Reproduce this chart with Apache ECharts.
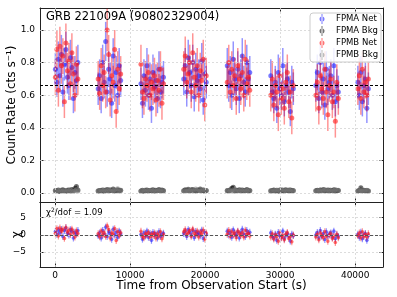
<!DOCTYPE html>
<html><head><meta charset="utf-8">
<script src="https://cdn.jsdelivr.net/npm/echarts@6/dist/echarts.min.js"></script>
<style>html,body{margin:0;padding:0;background:#fff}#c{width:397px;height:297px}</style>
</head><body><div id="c"></div>
<script>
const titleText = 'GRB 221009A (90802329004)';
const chiLabel = 'χ{s|2}/dof = 1.09';
const meanRate = 0.663;
const xTicks = [0, 10000, 20000, 30000, 40000];
const yTicksMain = [0, 0.2, 0.4, 0.6, 0.8, 1.0];
const yTicksRes = [-5, 0, 5];
const seriesNames = ['FPMA Net', 'FPMA Bkg', 'FPMB Net', 'FPMB Bkg'];

const times = [
  50,250,450,650,850,1050,1250,1450,1650,1850,2050,2250,2450,2650,2850,3050,
  5750,5950,6150,6350,6550,6750,6950,7150,7350,7550,7750,7950,8150,8350,8550,8750,
  11450,11650,11850,12050,12250,12450,12650,12850,13050,13250,13450,13650,13850,14050,14250,14450,
  17150,17350,17550,17750,17950,18150,18350,18550,18750,18950,19150,19350,19550,19750,19950,20150,
  22950,23150,23350,23550,23750,23950,24150,24350,24550,24750,24950,25150,25350,25550,25750,25950,
  28750,28950,29150,29350,29550,29750,29950,30150,30350,30550,30750,30950,31150,31350,31550,31750,
  34750,34950,35150,35350,35550,35750,35950,36150,36350,36550,36750,36950,37150,37350,37550,37750,
  40350,40550,40750,40950,41150,41350,41550,41750
];
const rateA = [
  0.76,0.68,0.82,0.72,0.85,0.62,0.79,0.88,0.71,0.66,0.83,0.77,0.58,0.74,0.69,0.80,
  0.64,0.72,0.58,0.80,0.68,0.93,0.62,0.76,0.70,0.55,0.84,0.66,0.74,0.60,0.78,0.69,
  0.67,0.55,0.72,0.63,0.78,0.60,0.70,0.52,0.74,0.65,0.69,0.58,0.76,0.62,0.68,0.71,
  0.70,0.78,0.62,0.83,0.74,0.66,0.80,0.59,0.76,0.69,0.72,0.64,0.81,0.57,0.73,0.68,
  0.78,0.66,0.74,0.60,0.82,0.70,0.64,0.76,0.58,0.72,0.84,0.68,0.62,0.80,0.70,0.74,
  0.72,0.62,0.58,0.68,0.52,0.74,0.64,0.60,0.78,0.56,0.66,0.70,0.62,0.50,0.68,0.64,
  0.66,0.74,0.58,0.80,0.62,0.70,0.54,0.76,0.64,0.68,0.72,0.60,0.78,0.56,0.66,0.62,
  0.68,0.60,0.74,0.56,0.66,0.70,0.52,0.64
];
const errA = [
  0.10,0.09,0.11,0.10,0.12,0.09,0.10,0.11,0.10,0.09,0.11,0.10,0.09,0.10,0.10,0.11,
  0.10,0.10,0.09,0.11,0.10,0.12,0.09,0.11,0.10,0.09,0.11,0.10,0.10,0.09,0.11,0.10,
  0.10,0.09,0.10,0.10,0.11,0.09,0.10,0.09,0.11,0.10,0.10,0.09,0.11,0.10,0.10,0.10,
  0.10,0.11,0.09,0.11,0.10,0.10,0.11,0.09,0.10,0.10,0.10,0.09,0.11,0.09,0.10,0.10,
  0.11,0.10,0.10,0.09,0.11,0.10,0.10,0.11,0.09,0.10,0.11,0.10,0.09,0.11,0.10,0.10,
  0.10,0.10,0.09,0.10,0.09,0.11,0.10,0.09,0.11,0.09,0.10,0.10,0.10,0.09,0.10,0.10,
  0.10,0.11,0.09,0.11,0.10,0.10,0.09,0.11,0.10,0.10,0.10,0.09,0.11,0.09,0.10,0.10,
  0.10,0.09,0.10,0.09,0.10,0.10,0.09,0.10
];
const rateB = [
  0.71,0.88,0.63,0.90,0.78,0.84,0.56,0.92,0.75,0.81,0.67,0.86,0.73,0.60,0.79,0.70,
  0.70,0.61,0.78,0.66,0.74,0.62,1.00,0.85,0.57,0.72,0.68,0.88,0.50,0.76,0.64,0.73,
  0.79,0.62,0.58,0.70,0.66,0.74,0.60,0.68,0.64,0.72,0.57,0.69,0.63,0.76,0.55,0.67,
  0.76,0.84,0.68,0.73,0.80,0.62,0.86,0.71,0.66,0.78,0.60,0.75,0.69,0.82,0.54,0.72,
  0.68,0.80,0.62,0.76,0.66,0.72,0.58,0.78,0.70,0.64,0.74,0.60,0.82,0.67,0.71,0.63,
  0.60,0.70,0.54,0.66,0.62,0.48,0.72,0.58,0.64,0.52,0.68,0.74,0.56,0.62,0.46,0.66,
  0.60,0.68,0.52,0.72,0.64,0.58,0.76,0.62,0.48,0.66,0.70,0.56,0.62,0.44,0.68,0.58,
  0.64,0.72,0.58,0.76,0.62,0.68,0.60,0.70
];
const errB = [
  0.11,0.12,0.10,0.12,0.11,0.11,0.10,0.12,0.11,0.11,0.10,0.12,0.11,0.10,0.11,0.10,
  0.11,0.10,0.11,0.10,0.11,0.10,0.13,0.12,0.10,0.11,0.10,0.12,0.10,0.11,0.10,0.11,
  0.12,0.10,0.10,0.11,0.10,0.11,0.10,0.11,0.10,0.11,0.10,0.11,0.10,0.11,0.10,0.10,
  0.11,0.12,0.10,0.11,0.11,0.10,0.12,0.11,0.10,0.11,0.10,0.11,0.10,0.12,0.10,0.11,
  0.10,0.11,0.10,0.11,0.10,0.11,0.10,0.11,0.10,0.10,0.11,0.10,0.12,0.10,0.11,0.10,
  0.10,0.11,0.10,0.10,0.10,0.10,0.11,0.10,0.10,0.10,0.11,0.11,0.10,0.10,0.10,0.10,
  0.10,0.11,0.10,0.11,0.10,0.10,0.11,0.10,0.10,0.10,0.11,0.10,0.10,0.10,0.11,0.10,
  0.10,0.11,0.10,0.11,0.10,0.10,0.10,0.11
];
const bkgA = [
  0.015,0.012,0.018,0.010,0.016,0.020,0.014,0.011,0.017,0.019,0.013,0.022,0.016,0.028,0.040,0.018,
  0.012,0.016,0.014,0.019,0.011,0.017,0.021,0.013,0.018,0.015,0.024,0.012,0.016,0.020,0.014,0.017,
  0.013,0.017,0.011,0.015,0.019,0.012,0.016,0.014,0.020,0.013,0.017,0.015,0.022,0.012,0.018,0.014,
  0.014,0.020,0.016,0.023,0.013,0.018,0.021,0.015,0.012,0.019,0.016,0.024,0.014,0.017,0.011,0.016,
  0.016,0.013,0.019,0.030,0.036,0.012,0.017,0.015,0.020,0.013,0.018,0.014,0.016,0.021,0.012,0.015,
  0.012,0.015,0.018,0.013,0.016,0.011,0.019,0.014,0.017,0.012,0.020,0.015,0.013,0.018,0.014,0.016,
  0.014,0.017,0.012,0.019,0.015,0.021,0.013,0.016,0.018,0.012,0.017,0.014,0.020,0.013,0.016,0.015,
  0.013,0.016,0.032,0.014,0.017,0.012,0.015,0.013
];
const bkgB = [
  0.012,0.016,0.010,0.014,0.018,0.011,0.015,0.013,0.017,0.012,0.020,0.014,0.010,0.016,0.022,0.013,
  0.014,0.011,0.017,0.013,0.019,0.012,0.016,0.022,0.014,0.018,0.013,0.020,0.015,0.026,0.012,0.016,
  0.011,0.015,0.013,0.018,0.012,0.016,0.014,0.019,0.011,0.017,0.013,0.016,0.020,0.014,0.012,0.015,
  0.013,0.016,0.012,0.018,0.015,0.020,0.013,0.017,0.024,0.014,0.019,0.012,0.016,0.021,0.013,0.015,
  0.013,0.017,0.014,0.012,0.022,0.015,0.018,0.013,0.016,0.019,0.012,0.017,0.014,0.015,0.018,0.013,
  0.015,0.012,0.017,0.014,0.019,0.013,0.016,0.022,0.012,0.018,0.014,0.016,0.020,0.013,0.017,0.012,
  0.012,0.016,0.014,0.018,0.013,0.017,0.022,0.015,0.012,0.019,0.014,0.016,0.013,0.021,0.015,0.017,
  0.012,0.015,0.018,0.013,0.016,0.014,0.017,0.013
];
const bkgErrA = 0.006;
const bkgErrB = 0.006;

const FONT = 'DejaVu Sans';
const C = {
  aFill: 'rgba(40,40,255,0.62)', aBar: 'rgba(0,0,255,0.42)',
  bFill: 'rgba(255,30,30,0.62)', bBar: 'rgba(255,0,0,0.42)',
  kaFill: 'rgba(0,0,0,0.55)', kaBar: 'rgba(0,0,0,0.45)',
  kbFill: 'rgba(120,120,120,0.5)', kbBar: 'rgba(120,120,120,0.4)'
};

function pts(vals, errs) {
  return times.map((t, i) => [t, vals[i], Array.isArray(errs) ? errs[i] : errs]);
}
function resid(vals, errs) {
  return times.map((t, i) => [t, (vals[i] - meanRate) / errs[i], 1]);
}
function errRender(r, lw, fill, stroke) {
  return function (params, api) {
    const x = api.value(0), y = api.value(1), e = api.value(2);
    const p = api.coord([x, y]);
    const p1 = api.coord([x, y - e]);
    const p2 = api.coord([x, y + e]);
    return { type: 'group', children: [
      { type: 'line', shape: { x1: p1[0], y1: p1[1], x2: p2[0], y2: p2[1] }, style: { stroke: stroke, lineWidth: lw } },
      { type: 'circle', shape: { cx: p[0], cy: p[1], r: r }, style: { fill: fill } }
    ]};
  };
}

const icon = 'path://M0,0h0.01v0.01h-0.01z M17.99,9.99h0.01v0.01h-0.01z M8.5,0h1v10h-1z M6.5,5a2.5,2.5 0 1,0 5,0a2.5,2.5 0 1,0 -5,0z';

const gridL = 40, gridR = 14;
const axisLineStyle = { color: '#222', width: 1 };
const gridLineStyle = { color: '#d4d4d4', width: 0.8, type: [2, 2] };

function xAx(gi, pos, showLabel, name) {
  return {
    type: 'value', gridIndex: gi, position: pos, min: -2000, max: 43700,
    axisLine: { show: true, onZero: false, lineStyle: axisLineStyle },
    axisTick: { show: true, inside: true, length: 3.5, customValues: xTicks, lineStyle: { color: '#222' } },
    axisLabel: { show: showLabel, customValues: xTicks, margin: 4, fontSize: 9, fontFamily: FONT, color: '#000',
      formatter: v => String(v) },
    splitLine: { show: false },
    name: name || '', nameLocation: 'middle', nameGap: 13, nameMoveOverlap: false,
    nameTextStyle: { fontSize: 12, fontFamily: FONT, color: '#000' }
  };
}
function yAx(gi, pos, min, max, ticks, showLabel, name, gap, margin) {
  return {
    type: 'value', gridIndex: gi, position: pos, min: min, max: max,
    axisLine: { show: true, onZero: false, lineStyle: axisLineStyle },
    axisTick: { show: true, inside: true, length: 3.5, customValues: ticks, lineStyle: { color: '#222' } },
    axisLabel: { show: showLabel, customValues: ticks, margin: margin || 5, fontSize: 9, fontFamily: FONT, color: '#000',
      formatter: v => (gi === 0 ? v.toFixed(1) : String(v)).replace('-', '−') },
    splitLine: { show: false },
    name: name || '', nameLocation: 'middle', nameGap: gap || 20, nameMoveOverlap: false,
    nameTextStyle: { fontSize: 12, fontFamily: FONT, color: '#000' }
  };
}
function gridMarks(yt) {
  return xTicks.map(v => ({ xAxis: v })).concat(yt.map(v => ({ yAxis: v })));
}
function mline(data, style) {
  return { silent: true, symbol: 'none', label: { show: false }, emphasis: { disabled: true },
    lineStyle: style, data: data };
}

const chart = echarts.init(document.getElementById('c'), null, { renderer: 'canvas' });
chart.setOption({
  animation: false,
  backgroundColor: '#fff',
  title: [
    { text: titleText, left: 46, top: 11, padding: 0, textStyle: { fontSize: 11.5, fontWeight: 'normal', fontFamily: FONT, color: '#000' } },
    { text: chiLabel, left: 46, top: 207, padding: 0,
      textStyle: { fontSize: 8.5, fontWeight: 'normal', fontFamily: FONT, color: '#000',
        rich: { s: { fontSize: 6, verticalAlign: 'top', padding: [0, 0, 5, 0], fontFamily: FONT, color: '#000' } } } }
  ],
  legend: {
    data: seriesNames.map(n => ({ name: n, icon: icon })),
    orient: 'vertical', left: 310, top: 13, itemWidth: 18, itemHeight: 10, itemGap: 2,
    padding: [1, 3, 2, 3], backgroundColor: 'rgba(255,255,255,0.85)', borderColor: '#cccccc', borderWidth: 1, borderRadius: 3,
    textStyle: { fontSize: 8.5, fontFamily: FONT, color: '#000', padding: [0, 0, 0, 0] },
    selectedMode: false, z: 10
  },
  grid: [
    { left: gridL, right: gridR, top: 8, height: 194, outerBoundsMode: 'none', containLabel: false },
    { left: gridL, right: gridR, top: 202, height: 65, outerBoundsMode: 'none', containLabel: false }
  ],
  xAxis: [
    xAx(0, 'bottom', false),
    xAx(0, 'top', false),
    xAx(1, 'bottom', true, 'Time from Observation Start (s)'),
    xAx(1, 'top', false)
  ],
  yAxis: [
    yAx(0, 'left', -0.055, 1.135, yTicksMain, true, 'Count Rate (cts s⁻¹)', 22, 5),
    yAx(0, 'right', -0.055, 1.135, yTicksMain, false),
    yAx(1, 'left', -9.3, 9.5, yTicksRes, true, 'χ', 17, 14),
    yAx(1, 'right', -9.3, 9.5, yTicksRes, false)
  ],
  series: [
    { name: 'gridMain', type: 'scatter', xAxisIndex: 0, yAxisIndex: 0, data: [], z: 0,
      markLine: mline(gridMarks(yTicksMain), gridLineStyle) },
    { name: 'gridRes', type: 'scatter', xAxisIndex: 2, yAxisIndex: 2, data: [], z: 0,
      markLine: mline(gridMarks(yTicksRes), gridLineStyle) },
    { name: 'FPMA Net', type: 'custom', xAxisIndex: 0, yAxisIndex: 0, itemStyle: { color: C.aFill },
      renderItem: errRender(2.5, 1.5, C.aFill, C.aBar), data: pts(rateA, errA), z: 2 },
    { name: 'FPMA Bkg', type: 'custom', xAxisIndex: 0, yAxisIndex: 0, itemStyle: { color: C.kaFill },
      renderItem: errRender(2.5, 1.5, C.kaFill, C.kaBar), data: pts(bkgA, bkgErrA), z: 2 },
    { name: 'FPMB Net', type: 'custom', xAxisIndex: 0, yAxisIndex: 0, itemStyle: { color: C.bFill },
      renderItem: errRender(2.5, 1.5, C.bFill, C.bBar), data: pts(rateB, errB), z: 2 },
    { name: 'FPMB Bkg', type: 'custom', xAxisIndex: 0, yAxisIndex: 0, itemStyle: { color: C.kbFill },
      renderItem: errRender(2.5, 1.5, C.kbFill, C.kbBar), data: pts(bkgB, bkgErrB), z: 2 },
    { name: 'FPMA Res', type: 'custom', xAxisIndex: 2, yAxisIndex: 2,
      renderItem: errRender(1.8, 1.2, C.aFill, C.aBar), data: resid(rateA, errA), z: 2 },
    { name: 'FPMB Res', type: 'custom', xAxisIndex: 2, yAxisIndex: 2,
      renderItem: errRender(1.8, 1.2, C.bFill, C.bBar), data: resid(rateB, errB), z: 2 },
    { name: 'meanMain', type: 'scatter', xAxisIndex: 0, yAxisIndex: 0, data: [], z: 5,
      markLine: mline([{ yAxis: meanRate }], { color: '#000', type: [3, 2], width: 1 }) },
    { name: 'meanRes', type: 'scatter', xAxisIndex: 2, yAxisIndex: 2, data: [], z: 5,
      markLine: mline([{ yAxis: 0 }], { color: '#555', type: [3, 2], width: 1 }) }
  ]
});
</script></body></html>
